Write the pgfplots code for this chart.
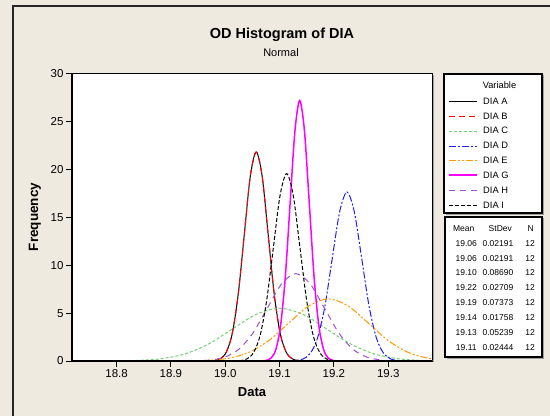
\documentclass[border=0pt]{standalone}
\usepackage{pgfplots}
\pgfplotsset{compat=1.18}
\usepackage{fontspec}
\setmainfont{Liberation Sans}
\definecolor{bg}{RGB}{238,234,224}
\definecolor{cgreen}{RGB}{120,208,120}
\definecolor{cblue}{RGB}{30,30,255}
\definecolor{corange}{RGB}{255,153,0}
\definecolor{cmag}{RGB}{255,0,255}
\definecolor{cpurp}{RGB}{160,80,210}
\definecolor{cred}{RGB}{255,0,0}
\definecolor{shadow}{RGB}{160,160,160}
\newcommand{\fs}[1]{\fontsize{#1}{#1}\selectfont}

\tikzset{
  sA/.style={draw=black, line width=1pt},
  sB/.style={draw=cred, line width=1pt, dash pattern=on 6pt off 4pt},
  sC/.style={draw=cgreen, line width=1pt, dash pattern=on 3pt off 2pt},
  sD/.style={draw=cblue, line width=1pt, dash pattern=on 7pt off 2pt on 2pt off 2pt},
  sE/.style={draw=corange, line width=1pt, dash pattern=on 7pt off 2pt on 2pt off 2pt on 2pt off 2pt},
  sG/.style={draw=cmag, line width=1.5pt},
  sH/.style={draw=cpurp, line width=1pt, dash pattern=on 6pt off 5pt},
  sI/.style={draw=black, line width=1pt, dash pattern=on 4pt off 2pt},
}

\begin{document}
\begin{tikzpicture}
\begin{scope}[x=1pt,y=1pt]
\useasboundingbox (0,0) rectangle (550,416);
\fill[bg] (0,0) rectangle (550,416);
\draw[line width=1.5pt, black!85] (13,0) -- (13,410) -- (550,410);

% titles
\node[font=\bfseries\fs{14.5}] at (282,381) {OD Histogram of DIA};
\node[font=\fs{11}] at (281,363) {Normal};
\node[font=\bfseries\fs{13.5}, rotate=90] at (35,199) {Frequency};
\node[font=\bfseries\fs{13}] at (252,24) {Data};

% axis shadow
\draw[shadow, line width=1pt] (433.8,54) -- (433.8,340.5);

% legend box: variables
\draw[shadow, line width=1pt] (445.5,201.5) -- (543.5,201.5) -- (543.5,340.5);
\draw[black, line width=1.3pt, fill=white] (444,203) rectangle (542,342);
\node[font=\fs{9.3}] at (499.5,331) {Variable};
\draw[sA, line width=1.3pt] (449,314.5) -- (477,314.5);
\draw[sB, line width=1.3pt] (449,299.5) -- (477,299.5);
\draw[sC, line width=1.3pt] (449,284.5) -- (477,284.5);
\draw[sD, line width=1.3pt] (449,269.5) -- (477,269.5);
\draw[sE, line width=1.3pt] (449,255.5) -- (477,255.5);
\draw[sG, line width=2pt] (449,240.5) -- (477,240.5);
\draw[sH, line width=1.3pt] (449,225.5) -- (477,225.5);
\draw[sI, line width=1.3pt] (449,210.5) -- (477,210.5);
\foreach \t [count=\i from 0] in {DIA A, DIA B, DIA C, DIA D, DIA E, DIA G, DIA H, DIA I}{
  \node[font=\fs{9.3}, anchor=west, inner sep=0pt] at (483,315-14.86*\i) {\t};
}

% legend box: statistics
\draw[shadow, line width=1pt] (446.5,57.5) -- (543.5,57.5) -- (543.5,197.5);
\draw[black, line width=1.3pt, fill=white] (445,59) rectangle (542,199);
\node[font=\fs{8.5}] at (463.7,187) {Mean};
\node[font=\fs{8.5}] at (500.3,187) {StDev};
\node[font=\fs{8.5}] at (530.7,187) {N};
\foreach \m/\sd [count=\i from 0] in {19.06/0.02191, 19.06/0.02191, 19.10/0.08690, 19.22/0.02709, 19.19/0.07373, 19.14/0.01758, 19.13/0.05239, 19.11/0.02444}{
  \node[font=\fs{8.5}] at (466.3,172.7-14.86*\i) {\m};
  \node[font=\fs{8.5}] at (498,172.7-14.86*\i) {\sd};
  \node[font=\fs{8.5}] at (530,172.7-14.86*\i) {12};
}
\end{scope}

\begin{axis}[
    at={(72pt,55pt)}, anchor=south west,
    scale only axis,
    width=360.3pt, height=287pt,
    xmin=18.718, xmax=19.381,
    ymin=0, ymax=30,
    axis background/.style={fill=white},
    axis line style={line width=1pt},
    tick align=outside,
    xtick pos=bottom, ytick pos=left,
    major tick length=6pt,
    tick style={black, line width=1pt},
    xtick={18.8,18.9,19.0,19.1,19.2,19.3},
    xticklabels={18.8,18.9,19.0,19.1,19.2,19.3},
    ytick={0,5,10,15,20,25,30},
    yticklabels={0,5,10,15,20,25,30},
    xticklabel style={font=\fs{11.5}, yshift=1pt},
    yticklabel style={font=\fs{11.5}, xshift=1pt},
]
% DIA A
\addplot[sA, smooth] coordinates {
(18.9694,0.007) (18.9803,0.048) (18.9913,0.243) (19.0022,0.96) (19.0132,2.96)
(19.0241,7.09) (19.0351,13.25) (19.0460,19.28) (19.0570,21.85) (19.0680,19.28)
(19.0789,13.25) (19.0899,7.09) (19.1008,2.96) (19.1118,0.96) (19.1227,0.243)
(19.1337,0.048) (19.1446,0.007)};
% DIA B
\addplot[sB, smooth] coordinates {
(18.9694,0.007) (18.9803,0.048) (18.9913,0.243) (19.0022,0.96) (19.0132,2.96)
(19.0241,7.09) (19.0351,13.25) (19.0460,19.28) (19.0570,21.85) (19.0680,19.28)
(19.0789,13.25) (19.0899,7.09) (19.1008,2.96) (19.1118,0.96) (19.1227,0.243)
(19.1337,0.048) (19.1446,0.007)};
% DIA C
\addplot[sC, smooth] coordinates {
(18.7524,0.002) (18.7959,0.012) (18.8393,0.061) (18.8828,0.242) (18.9262,0.746)
(18.9697,1.788) (19.0131,3.341) (19.0566,4.862) (19.1000,5.509) (19.1435,4.862)
(19.1869,3.341) (19.2304,1.788) (19.2738,0.746) (19.3173,0.242) (19.3607,0.061)
(19.4042,0.012)};
% DIA D
\addplot[sD, smooth] coordinates {
(19.1156,0.006) (19.1292,0.039) (19.1427,0.196) (19.1563,0.78) (19.1698,2.39)
(19.1834,5.74) (19.1969,10.72) (19.2105,15.60) (19.2240,17.67) (19.2375,15.60)
(19.2511,10.72) (19.2646,5.74) (19.2782,2.39) (19.2917,0.78) (19.3053,0.196)
(19.3188,0.039) (19.3324,0.006)};
% DIA E
\addplot[sE, smooth] coordinates {
(18.8951,0.002) (18.9319,0.014) (18.9688,0.072) (19.0057,0.285) (19.0425,0.879)
(19.0794,2.108) (19.1163,3.938) (19.1531,5.730) (19.1900,6.493) (19.2269,5.730)
(19.2637,3.938) (19.3006,2.108) (19.3375,0.879) (19.3743,0.285) (19.4112,0.072)};
% DIA G
\addplot[sG, smooth] coordinates {
(19.0667,0.009) (19.0755,0.060) (19.0843,0.303) (19.0931,1.197) (19.1018,3.69)
(19.1106,8.84) (19.1194,16.52) (19.1282,24.03) (19.1370,27.23) (19.1458,24.03)
(19.1546,16.52) (19.1634,8.84) (19.1722,3.69) (19.1810,1.197) (19.1897,0.303)
(19.1985,0.060) (19.2073,0.009)};
% DIA H
\addplot[sH, smooth] coordinates {
(18.9204,0.003) (18.9466,0.020) (18.9728,0.102) (18.9990,0.402) (19.0252,1.237)
(19.0514,2.967) (19.0776,5.542) (19.1038,8.064) (19.1300,9.138) (19.1562,8.064)
(19.1824,5.542) (19.2086,2.967) (19.2348,1.237) (19.2610,0.402) (19.2872,0.102)
(19.3134,0.020) (19.3396,0.003)};
% DIA I
\addplot[sI, smooth] coordinates {
(19.0152,0.007) (19.0275,0.043) (19.0397,0.218) (19.0519,0.861) (19.0641,2.65)
(19.0763,6.36) (19.0886,11.88) (19.1008,17.29) (19.1130,19.59) (19.1252,17.29)
(19.1374,11.88) (19.1497,6.36) (19.1619,2.65) (19.1741,0.861) (19.1863,0.218)
(19.1985,0.043) (19.2108,0.007)};
\end{axis}

\draw[black, line width=2pt] (72pt,342pt) -- (72pt,55pt) -- (432.3pt,55pt);
\end{tikzpicture}
\end{document}
